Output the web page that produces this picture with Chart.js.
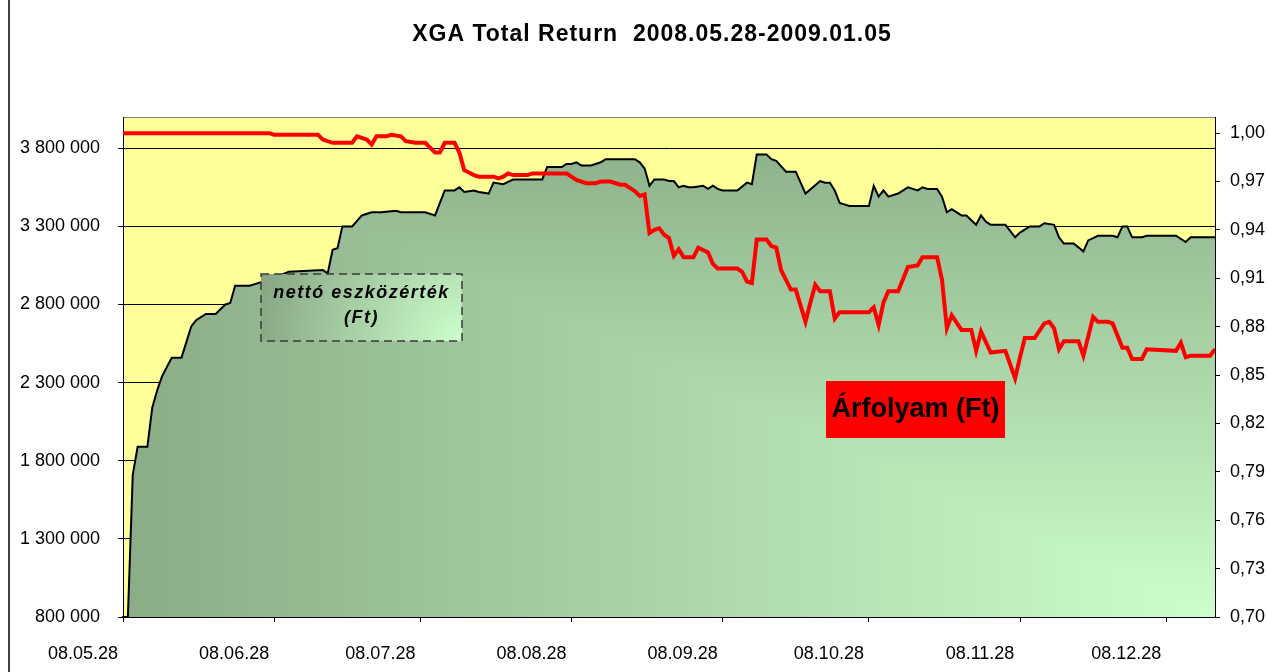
<!DOCTYPE html>
<html>
<head>
<meta charset="utf-8">
<script src="https://cdn.jsdelivr.net/npm/chart.js@4.4.1/dist/chart.umd.min.js"></script>
<style>
  html, body { margin: 0; padding: 0; background: #fff; }
  #wrap { width: 1268px; height: 672px; }
</style>
</head>
<body>
<div id="wrap"><canvas id="myChart" width="1268" height="672"></canvas></div>
<script>
// Nettó eszközérték (Ft) - napok 2008.05.28-tól
const navDays = [0,1,2,3,5,6,7,8,10,12,14,15,17,19,21,22,23,26,28,31,34,41,42,43,44,45,47,49,51,53,56,57,62,64,66,68,69,70,72,73,75,76,78,80,86,87,90,91,92,93,94,96,98,99,105,106,107,108,109,111,112,113,114,115,116,117,119,120,121,122,123,126,128,129,130,132,133,134,136,138,139,140,143,144,145,146,147,149,153,154,155,156,157,159,161,163,164,165,167,168,169,170,172,173,175,176,177,178,181,183,184,186,188,189,191,192,193,195,197,198,200,203,204,205,206,207,209,210,216,218,219,224];
const navValues = [800000,800000,1710000,1890000,1890000,2140000,2250000,2340000,2460000,2460000,2660000,2700000,2740000,2740000,2800000,2810000,2920000,2920000,2940000,2970000,3010000,3020000,3000000,3150000,3160000,3300000,3300000,3370000,3390000,3390000,3400000,3390000,3390000,3370000,3530000,3530000,3550000,3520000,3530000,3520000,3510000,3580000,3570000,3600000,3600000,3680000,3680000,3700000,3700000,3710000,3690000,3690000,3710000,3730000,3730000,3710000,3670000,3560000,3600000,3600000,3590000,3590000,3550000,3560000,3550000,3550000,3560000,3540000,3560000,3540000,3530000,3530000,3580000,3570000,3760000,3760000,3730000,3720000,3650000,3650000,3580000,3510000,3590000,3580000,3580000,3530000,3450000,3430000,3430000,3560000,3490000,3530000,3490000,3510000,3550000,3530000,3550000,3540000,3540000,3490000,3390000,3410000,3370000,3370000,3310000,3370000,3330000,3310000,3310000,3230000,3260000,3300000,3300000,3320000,3310000,3230000,3190000,3190000,3140000,3210000,3240000,3240000,3230000,3300000,3300000,3230000,3230000,3240000,3240000,3200000,3230000,3230000];

// Árfolyam (Ft)
const priceDays = [0,30,31,40,41,43,47,48,50,51,52,54,55,57,58,60,62,63,64,65,66,68,69,70,72,73,76,77,78,79,80,83,84,91,93,95,97,98,100,102,103,105,106,107,108,109,110,111,112,113,114,115,117,118,120,121,122,126,127,128,129,130,132,133,134,135,137,138,140,141,142,143,145,146,147,149,153,154,155,156,157,159,161,163,164,167,168,169,170,172,174,175,176,178,181,183,184,185,187,189,190,191,192,193,196,197,199,200,202,203,205,206,207,209,210,216,217,218,219,223,224];
const priceValues = [1.000,1.000,0.999,0.999,0.996,0.994,0.994,0.998,0.996,0.993,0.998,0.998,0.999,0.998,0.995,0.994,0.994,0.991,0.988,0.988,0.994,0.994,0.988,0.977,0.974,0.973,0.973,0.972,0.973,0.975,0.974,0.974,0.975,0.975,0.971,0.969,0.969,0.970,0.970,0.968,0.968,0.964,0.961,0.962,0.938,0.940,0.941,0.937,0.935,0.924,0.928,0.923,0.923,0.929,0.926,0.919,0.916,0.916,0.914,0.908,0.907,0.934,0.934,0.930,0.929,0.915,0.903,0.903,0.883,0.895,0.906,0.902,0.902,0.885,0.889,0.889,0.889,0.892,0.881,0.895,0.902,0.902,0.917,0.918,0.923,0.923,0.909,0.879,0.887,0.878,0.878,0.865,0.877,0.864,0.865,0.848,0.861,0.873,0.873,0.882,0.883,0.879,0.866,0.871,0.871,0.862,0.886,0.883,0.883,0.882,0.867,0.867,0.860,0.860,0.866,0.865,0.870,0.861,0.862,0.862,0.866];

// Tengelyek
const monthTickDays = [0, 31, 61, 92, 123, 153, 184, 214];
const monthTickLabels = ["08.05.28", "08.06.28", "08.07.28", "08.08.28", "08.09.28", "08.10.28", "08.11.28", "08.12.28"];
const leftTicks = [800000, 1300000, 1800000, 2300000, 2800000, 3300000, 3800000];
const rightTicks = [0.70, 0.73, 0.76, 0.79, 0.82, 0.85, 0.88, 0.91, 0.94, 0.97, 1.00];

const FONT = "'Liberation Sans', Arial, sans-serif";

// Sarokból induló színátmenet (Excel "from corner") mintaként
let areaPattern = null;
function cornerPattern(chart) {
    if (areaPattern) return areaPattern;
    const ca = chart.chartArea;
    const off = document.createElement('canvas');
    off.width = chart.width;
    off.height = chart.height;
    const octx = off.getContext('2d');
    const img = octx.createImageData(off.width, off.height);
    const light = [204, 255, 204], dark = [138, 172, 134];
    const W = ca.right - ca.left, H = ca.bottom - ca.top;
    for (let y = Math.floor(ca.top); y < Math.ceil(ca.bottom) + 1; y++) {
        for (let x = Math.floor(ca.left); x < Math.ceil(ca.right) + 2; x++) {
            const t = Math.min(1, Math.max((ca.right - x) / W, (ca.bottom - y) / H));
            const i = (y * off.width + x) * 4;
            img.data[i] = light[0] + (dark[0] - light[0]) * t;
            img.data[i + 1] = light[1] + (dark[1] - light[1]) * t;
            img.data[i + 2] = light[2] + (dark[2] - light[2]) * t;
            img.data[i + 3] = 255;
        }
    }
    octx.putImageData(img, 0, 0);
    areaPattern = chart.ctx.createPattern(off, 'no-repeat');
    return areaPattern;
}

const fmtSpace = v => String(Math.round(v)).replace(/\B(?=(\d{3})+(?!\d))/g, ' ');

// Háttér, keret, cím
const framePlugin = {
    id: 'frame',
    beforeDraw(chart) {
        const { ctx, chartArea: ca } = chart;
        ctx.save();
        ctx.fillStyle = '#FFFF99';
        ctx.fillRect(ca.left, ca.top, ca.right - ca.left, ca.bottom - ca.top);
        ctx.strokeStyle = '#808080';
        ctx.lineWidth = 1;
        ctx.beginPath();
        ctx.moveTo(ca.left, ca.top + 0.5);
        ctx.lineTo(ca.right, ca.top + 0.5);
        ctx.stroke();
        ctx.strokeStyle = '#404040';
        ctx.lineWidth = 2;
        ctx.beginPath();
        ctx.moveTo(9, 0);
        ctx.lineTo(9, chart.height);
        ctx.stroke();
        ctx.fillStyle = '#000';
        ctx.font = 'bold 23px ' + FONT;
        ctx.textAlign = 'center';
        ctx.textBaseline = 'middle';
        ctx.letterSpacing = '1px';
        ctx.fillText('XGA Total Return  2008.05.28-2009.01.05', 652, 35);
        ctx.letterSpacing = '0px';
        ctx.restore();
    },
    afterDraw(chart) {
        const ctx = chart.ctx;
        ctx.save();
        // nettó eszközérték címke
        const bx = 261, by = 274, bw = 201, bh = 67;
        const g = ctx.createRadialGradient(bx + bw, by + bh, 0, bx + bw, by + bh, 210);
        g.addColorStop(0, '#CCFFCC');
        g.addColorStop(1, '#88A584');
        ctx.fillStyle = g;
        ctx.fillRect(bx, by, bw, bh);
        ctx.setLineDash([8, 5]);
        ctx.strokeStyle = '#3a3a3a';
        ctx.lineWidth = 1.5;
        ctx.strokeRect(bx, by, bw, bh);
        ctx.setLineDash([]);
        ctx.fillStyle = '#000';
        ctx.font = 'italic bold 18px ' + FONT;
        ctx.textAlign = 'center';
        ctx.textBaseline = 'middle';
        ctx.letterSpacing = '1.5px';
        ctx.fillText('nettó eszközérték', bx + bw / 2, by + 19);
        ctx.fillText('(Ft)', bx + bw / 2, by + 44);
        ctx.letterSpacing = '0px';
        // Árfolyam címke
        ctx.fillStyle = '#FF0000';
        ctx.fillRect(826, 381, 179, 57);
        ctx.fillStyle = '#000';
        ctx.font = 'bold 27px ' + FONT;
        ctx.fillText('Árfolyam (Ft)', 915.5, 410);
        ctx.restore();
    }
};

const ctx = document.getElementById('myChart').getContext('2d');
const myChart = new Chart(ctx, {
    type: 'line',
    data: {
        datasets: [
            {
                label: 'Árfolyam (Ft)',
                data: priceDays.map((d, i) => ({ x: d, y: priceValues[i] })),
                yAxisID: 'y2',
                borderColor: '#FF0000',
                borderWidth: 4,
                pointRadius: 0,
                fill: false,
                tension: 0
            },
            {
                label: 'nettó eszközérték (Ft)',
                data: navDays.map((d, i) => ({ x: d, y: navValues[i] })),
                yAxisID: 'y',
                borderColor: '#000000',
                borderWidth: 2,
                pointRadius: 0,
                fill: 'start',
                backgroundColor: c => c.chart.chartArea ? cornerPattern(c.chart) : '#9BBE96',
                tension: 0
            }
        ]
    },
    options: {
        responsive: false,
        animation: false,
        layout: { padding: { top: 117, left: 0, right: 0, bottom: 0 } },
        plugins: {
            legend: { display: false },
            tooltip: { enabled: false },
            title: { display: false }
        },
        scales: {
            x: {
                type: 'linear',
                min: 0,
                max: 224,
                afterBuildTicks: s => { s.ticks = monthTickDays.map(v => ({ value: v })); },
                afterFit: s => { s.height = 55; },
                grid: { drawOnChartArea: false, drawTicks: true, tickLength: 5, tickColor: '#000' },
                border: { color: '#000', width: 2 },
                ticks: {
                    autoSkip: false,
                    maxRotation: 0,
                    labelOffset: -40,
                    padding: 21,
                    color: '#000',
                    font: { family: FONT, size: 18 },
                    callback: v => monthTickLabels[monthTickDays.indexOf(v)]
                }
            },
            y: {
                position: 'left',
                min: 800000,
                max: 4000000,
                afterBuildTicks: s => { s.ticks = leftTicks.map(v => ({ value: v })); },
                afterFit: s => { s.width = 123; },
                grid: { color: '#000', lineWidth: 1, tickLength: 5, tickColor: '#000' },
                border: { color: '#000', width: 1 },
                ticks: {
                    padding: 18,
                    color: '#000',
                    font: { family: FONT, size: 18 },
                    callback: v => fmtSpace(v)
                }
            },
            y2: {
                position: 'right',
                min: 0.70,
                max: 1.01,
                afterBuildTicks: s => { s.ticks = rightTicks.map(v => ({ value: v })); },
                afterFit: s => { s.width = 53; },
                grid: { drawOnChartArea: false, tickLength: 5, tickColor: '#000' },
                border: { color: '#000', width: 1 },
                ticks: {
                    padding: 10,
                    color: '#000',
                    font: { family: FONT, size: 18 },
                    callback: v => v.toFixed(2).replace('.', ',')
                }
            }
        }
    },
    plugins: [framePlugin]
});
</script>
</body>
</html>
